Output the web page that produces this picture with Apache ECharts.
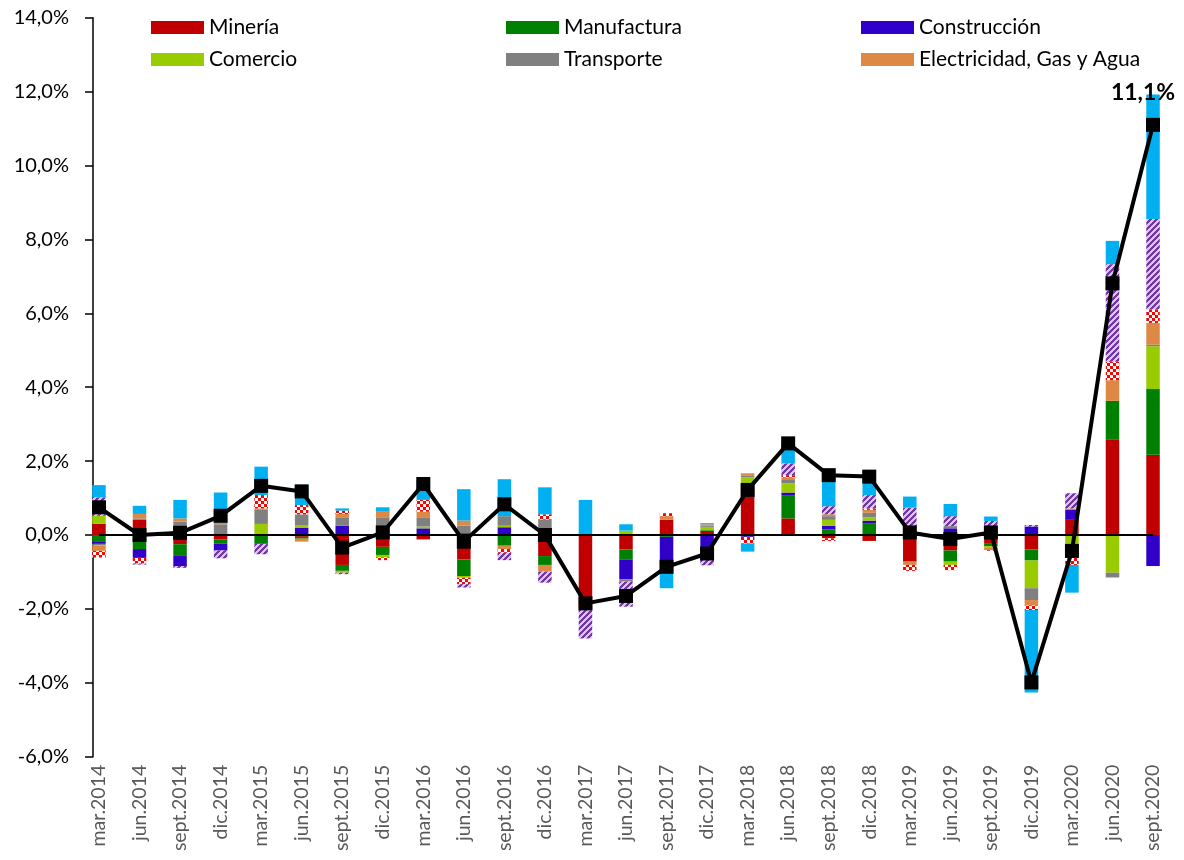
<!DOCTYPE html>
<html>
<head>
<meta charset="utf-8">
<script src="https://cdn.jsdelivr.net/npm/echarts@6/dist/echarts.min.js"></script>
<style>
  html, body { margin: 0; padding: 0; background: #ffffff; }
  #chart { width: 1184px; height: 860px; }
</style>
</head>
<body>
<div id="chart"></div>
<script>
// Trimestres
const categories = [
  'mar.2014', 'jun.2014', 'sept.2014', 'dic.2014',
  'mar.2015', 'jun.2015', 'sept.2015', 'dic.2015',
  'mar.2016', 'jun.2016', 'sept.2016', 'dic.2016',
  'mar.2017', 'jun.2017', 'sept.2017', 'dic.2017',
  'mar.2018', 'jun.2018', 'sept.2018', 'dic.2018',
  'mar.2019', 'jun.2019', 'sept.2019', 'dic.2019',
  'mar.2020', 'jun.2020', 'sept.2020'
];

// Incidencias por sector (puntos porcentuales)
const mineria = [0.30, 0.41, -0.25, -0.12, 0.02, -0.05, -0.81, -0.32, -0.12, -0.66, 0, -0.57, -1.95, -0.39, 0.41, 0.11, 1.25, 0.45, -0.09, -0.16, -0.72, -0.42, -0.22, -0.39, 0.41, 2.59, 2.17];
const manufactura = [-0.17, -0.38, -0.30, -0.11, -0.24, -0.05, -0.16, -0.22, 0, -0.45, -0.29, -0.24, 0, -0.27, -0.05, 0.02, 0.07, 0.63, 0.15, 0.32, 0, -0.30, -0.08, -0.30, 0, 1.04, 1.78];
const construccion = [-0.07, -0.24, -0.29, -0.19, 0, 0.19, 0.25, 0.05, 0.18, 0.05, 0.21, 0, 0, -0.54, -0.80, -0.66, -0.05, 0.07, 0.10, 0.07, 0.06, 0.18, 0.12, 0.23, 0.28, 0, -0.84];
const comercio = [0.22, 0, 0.10, 0, 0.28, 0.08, -0.05, -0.07, 0.05, -0.05, 0.04, 0.05, 0, 0.12, 0, 0.09, 0.24, 0.25, 0.16, 0.09, 0, -0.09, -0.05, -0.75, -0.50, -1.02, 1.16];
const transporte = [-0.04, 0.04, 0.26, 0.29, 0.38, 0.29, 0.23, 0.43, 0.25, 0.20, 0.26, 0.37, 0, -0.06, 0, 0.03, 0.04, 0.11, 0.10, 0.12, 0.08, 0.06, 0.10, -0.32, -0.08, -0.13, 0.04];
const electricidad = [-0.15, 0.12, 0.09, 0.05, 0.04, -0.08, 0.09, 0.15, 0.15, 0.14, -0.09, -0.18, 0, 0, 0.10, 0.04, 0.07, 0.05, 0.05, 0.08, -0.09, 0, -0.06, -0.15, 0.03, 0.56, 0.59];
const financieros = [-0.18, -0.15, 0, 0, 0.36, 0.25, 0.09, -0.07, 0.32, -0.17, -0.10, 0.14, 0, 0, 0.08, 0, -0.18, 0.06, -0.07, 0.04, -0.16, -0.14, -0.02, -0.12, -0.23, 0.50, 0.36];
const otrosServicios = [0.50, -0.03, -0.05, -0.21, -0.28, 0, -0.04, 0, 0, -0.09, -0.20, -0.30, -0.85, -0.68, 0, -0.16, 0, 0.32, 0.22, 0.36, 0.60, 0.27, 0.16, 0.04, 0.41, 2.64, 2.45];
const impuestos = [0.33, 0.22, 0.50, 0.81, 0.77, 0.55, 0.06, 0.12, 0.55, 0.85, 1.00, 0.73, 0.95, 0.17, -0.59, 0.03, -0.22, 0.54, 1.00, 0.66, 0.30, 0.33, 0.12, -2.23, -0.75, 0.63, 3.37];

// Variación total (%)
const total = [0.75, 0.00, 0.06, 0.52, 1.33, 1.18, -0.34, 0.07, 1.38, -0.18, 0.83, 0.00, -1.85, -1.65, -0.86, -0.50, 1.22, 2.48, 1.62, 1.58, 0.07, -0.11, 0.07, -3.99, -0.43, 6.81, 11.1];

// Marcas del eje vertical
const yMin = -6, yMax = 14, yStep = 2;

const FONT = 'Lato, "Open Sans", "Liberation Sans", sans-serif';

function fmtPct(v) {
  return v.toFixed(1).replace('.', ',') + '%';
}

// Relleno a cuadros rojo/blanco
function checkerPattern() {
  const c = document.createElement('canvas');
  c.width = 6; c.height = 6;
  const g = c.getContext('2d');
  g.fillStyle = '#ffffff';
  g.fillRect(0, 0, 6, 6);
  g.fillStyle = '#ff0000';
  g.fillRect(0, 0, 3, 3);
  g.fillRect(3, 3, 3, 3);
  return c;
}

// Relleno con rayas diagonales moradas
function hatchPattern() {
  const p = 6;
  const c = document.createElement('canvas');
  c.width = p; c.height = p;
  const g = c.getContext('2d');
  const img = g.createImageData(p, p);
  for (let y = 0; y < p; y++) {
    for (let x = 0; x < p; x++) {
      const on = ((x + y) % p) < 3;
      const i = (y * p + x) * 4;
      img.data[i] = on ? 0x74 : 0xd6;
      img.data[i + 1] = on ? 0x34 : 0xc8;
      img.data[i + 2] = on ? 0xa8 : 0xe6;
      img.data[i + 3] = 255;
    }
  }
  g.putImageData(img, 0, 0);
  return c;
}

const sectors = [
  { name: 'Minería', data: mineria, color: '#c00000' },
  { name: 'Manufactura', data: manufactura, color: '#008000' },
  { name: 'Construcción', data: construccion, color: '#3000c8' },
  { name: 'Comercio', data: comercio, color: '#99cc00' },
  { name: 'Transporte', data: transporte, color: '#808080' },
  { name: 'Electricidad, Gas y Agua', data: electricidad, color: '#dd8844' },
  { name: 'Servicios Financieros', data: financieros, color: { image: checkerPattern(), repeat: 'repeat' } },
  { name: 'Otros Servicios', data: otrosServicios, color: { image: hatchPattern(), repeat: 'repeat' } },
  { name: 'Impuestos', data: impuestos, color: '#00b0f0' }
];

const barSeries = sectors.map((s, i) => {
  const ser = {
    name: s.name,
    type: 'bar',
    stack: 'pib',
    barWidth: 13.5,
    data: s.data,
    itemStyle: { color: s.color },
    emphasis: { disabled: true }
  };
  if (i === 0) {
    ser.markLine = {
      silent: true,
      symbol: ['none', 'none'],
      label: { show: false },
      lineStyle: { color: '#000000', width: 2, type: 'solid' },
      data: [[{ coord: [0, 0] }, { coord: [categories.length - 1, 0] }]]
    };
  }
  return ser;
});

const lineData = total.map((v, i) => {
  if (i !== total.length - 1) return v;
  return {
    value: v,
    label: {
      show: true,
      position: 'top',
      distance: 14,
      offset: [-10, 0],
      formatter: p => fmtPct(p.value),
      fontFamily: FONT,
      fontSize: 23,
      fontWeight: 'bold',
      color: '#000000'
    }
  };
});

const legendRows = [
  ['Minería', 'Manufactura', 'Construcción'],
  ['Comercio', 'Transporte', 'Electricidad, Gas y Agua']
];
const legendCols = [151, 506, 861];
const legendTops = [17, 49];
const legends = [];
legendRows.forEach((row, r) => {
  row.forEach((name, c) => {
    legends.push({
      data: [name],
      left: legendCols[c],
      top: legendTops[r],
      padding: 0,
      itemWidth: 53,
      itemHeight: 13,
      icon: 'rect',
      selectedMode: false,
      textStyle: { fontFamily: FONT, fontSize: 21, color: '#000000' }
    });
  });
});

const chart = echarts.init(document.getElementById('chart'), null, { renderer: 'canvas' });
chart.setOption({
  animation: false,
  backgroundColor: '#ffffff',
  legend: legends,
  grid: { left: 78.7, right: 10.7, top: 17.7, bottom: 103.3, containLabel: false },
  xAxis: {
    type: 'category',
    data: categories,
    boundaryGap: true,
    axisLine: { show: false },
    axisTick: { show: false },
    axisLabel: {
      interval: 0,
      rotate: 90,
      margin: 8,
      color: '#595959',
      fontFamily: FONT,
      fontSize: 19.5
    }
  },
  yAxis: {
    type: 'value',
    min: yMin,
    max: yMax,
    interval: yStep,
    offset: -14.3,
    splitLine: { show: false },
    axisLine: { show: true, lineStyle: { color: '#000000', width: 1.5 } },
    axisTick: { show: true, inside: false, length: 8, lineStyle: { color: '#000000', width: 1.5 } },
    axisLabel: {
      formatter: fmtPct,
      margin: 24,
      color: '#000000',
      fontFamily: FONT,
      fontSize: 20
    }
  },
  series: barSeries.concat([{
    name: 'PIB',
    type: 'line',
    data: lineData,
    z: 6,
    symbol: 'rect',
    symbolSize: 14,
    lineStyle: { color: '#000000', width: 4 },
    itemStyle: { color: '#000000' },
    emphasis: { disabled: true }
  }])
});
</script>
</body>
</html>
